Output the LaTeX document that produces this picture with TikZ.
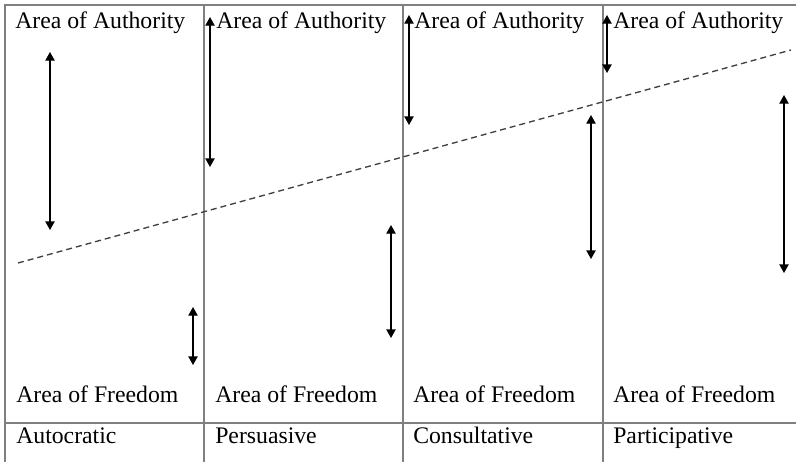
\documentclass[tikz,border=0pt]{standalone}
\usepackage{fontspec}
\setmainfont{Liberation Serif}
\usetikzlibrary{arrows.meta}
\tikzset{
  lbl/.style={anchor=base west,inner sep=0pt,font=\fontsize{17.8}{20}\selectfont},
  rule/.style={draw={rgb,255:red,128;green,128;blue,128},line width=1.1pt},
  span/.style={{Triangle[length=6.5pt,width=7pt]}-{Triangle[length=6.5pt,width=7pt]},line width=1pt},
}
\begin{document}
\begin{tikzpicture}[x=0.75pt,y=-0.75pt]
      \useasboundingbox (0,0) rectangle (796,462);
      % table rules
      \draw[rule] (5,462) -- (5,5) -- (796,5);
      \draw[rule] (5,423) -- (796,423);
      \foreach \x in {204,403,603}
        \draw[rule] (\x,5) -- (\x,462);
      \path[every node/.style={lbl}]
        (15,28) node (a1){Area of Authority}
        (216,28) node (a2){Area of Authority}
        (414,28) node (a3){Area of Authority}
        (613,28) node (a4){Area of Authority}
        (16,402) node (f1){Area of Freedom}
        (215,402) node (f2){Area of Freedom}
        (413,402) node (f3){Area of Freedom}
        (613,402) node (f4){Area of Freedom}
        (16,443) node (s1){Autocratic}
        (215,443) node (s2){Persuasive}
        (413,443) node (s3){Consultative}
        (613,443) node (s4){Participative};
      \path
        (50,52) coordinate (p1) (50,230) coordinate (q1)
        (193,307) coordinate (p2) (193,365) coordinate (q2)
        (210,17) coordinate (p3) (210,167) coordinate (q3)
        (391,225) coordinate (p4) (391,338) coordinate (q4)
        (409,15) coordinate (p5) (409,125) coordinate (q5)
        (591,115) coordinate (p6) (591,259) coordinate (q6)
        (607,15) coordinate (p7) (607,73) coordinate (q7)
        (784,95) coordinate (p8) (784,273) coordinate (q8)
        (18,263) coordinate (d0) (791,50) coordinate (d1);
      \begin{scope}[span]
        \draw (p1) to (q1);
        \draw (p2) to (q2);
        \draw (p3) to (q3);
        \draw (p4) to (q4);
        \draw (p5) to (q5);
        \draw (p6) to (q6);
        \draw (p7) to (q7);
        \draw (p8) to (q8);
      \end{scope}
      \draw[dash pattern=on 4.5pt off 3pt,line width=1pt,black!75] (d0) to (d1);
    \end{tikzpicture}
\end{document}
